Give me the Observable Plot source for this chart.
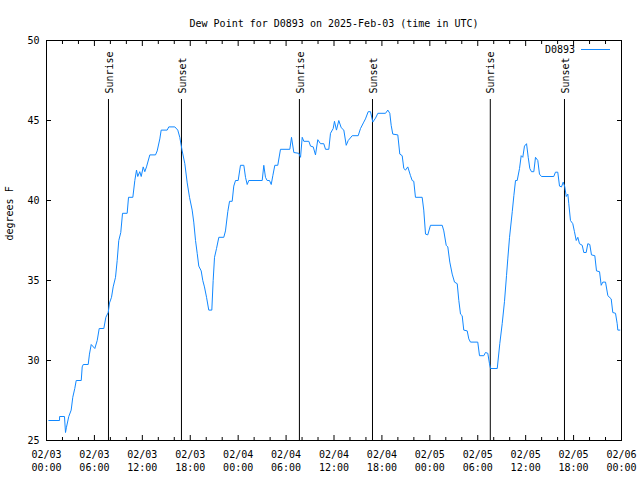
<!DOCTYPE html>
<html><head><meta charset="utf-8">
<script src="https://cdn.jsdelivr.net/npm/d3@7"></script>
<script src="https://cdn.jsdelivr.net/npm/@observablehq/plot@0.6"></script>
<style>body{margin:0;background:#fff}</style>
</head><body><div id="chart"></div>
<script>
const title = "Dew Point for D0893 on 2025-Feb-03 (time in UTC)";
const seriesName = "D0893";
const yLabel = "degrees F";
const startTime = "2025-02-03T00:00:00Z";

// hours since 2025-02-03 00:00 UTC
const hours = [0.29,1.63,1.64,2.25,2.38,2.5,2.79,3.09,3.29,3.54,3.72,4.35,4.47,4.6,5.22,5.38,5.6,6.05,6.35,6.6,7.18,7.43,7.73,7.89,8.14,8.35,8.64,8.85,9.05,9.3,9.52,10.1,10.27,10.81,11.06,11.27,11.43,11.68,11.86,12.11,12.31,12.52,12.94,13.65,13.86,14.19,14.36,15.11,15.31,16.07,16.44,16.69,16.99,17.32,17.62,17.91,18.24,18.44,18.66,18.87,19.07,19.37,19.57,19.78,20.04,20.32,20.7,20.87,21.04,21.29,21.58,22.2,22.41,22.7,22.92,23.25,23.45,23.67,24.0,24.29,24.71,24.92,25.13,25.33,27.01,27.21,27.42,27.63,27.92,28.14,28.34,28.59,28.96,29.3,30.47,30.68,30.97,31.59,31.81,32.02,32.22,32.85,33.06,33.4,33.68,33.97,34.31,34.72,34.94,35.35,35.56,35.9,36.06,36.31,36.6,36.9,37.23,37.53,37.78,38.28,39.03,39.32,39.73,39.94,40.28,40.57,40.86,41.2,41.49,42.45,42.74,42.99,43.16,43.36,43.99,44.24,44.54,44.74,44.95,45.24,45.58,45.79,45.99,46.2,47.04,47.24,47.46,47.74,48.08,49.55,49.75,50.05,50.25,50.5,50.8,51.09,51.43,51.63,51.84,52.05,52.25,52.68,52.88,53.09,54.0,54.22,54.76,54.97,55.26,55.47,55.6,56.44,56.76,57.06,57.35,57.6,57.77,57.98,58.32,58.52,58.73,58.94,59.23,59.44,59.64,59.85,60.11,60.32,60.52,60.73,61.02,61.23,61.52,61.73,61.98,63.52,63.73,64.02,64.24,64.49,64.7,64.9,65.08,65.28,65.4,65.61,65.9,66.11,66.33,66.53,66.74,67.08,67.28,67.58,67.78,68.03,68.24,68.66,68.87,69.25,69.46,69.66,70.0,70.29,70.71,70.91,71.25,71.46,71.54,71.79];
const dewPoint = [26.25,26.25,26.5,26.5,25.5,25.83,26.5,26.9,27.7,28.25,28.75,28.75,29.6,29.75,29.75,30.4,31.0,30.75,31.25,32.0,32.0,32.7,33.0,33.6,33.95,34.6,35.2,36.25,37.5,38.0,39.2,39.2,40.2,40.2,41.25,41.9,41.5,41.8,41.5,42.1,41.8,42.1,42.85,42.85,43.1,43.85,44.4,44.4,44.6,44.6,44.4,43.95,43.1,42.3,41.1,40.2,39.4,38.65,37.5,36.7,35.9,35.6,35.0,34.6,33.95,33.15,33.15,35.0,36.45,37.0,37.7,37.7,38.1,39.3,39.95,39.95,40.9,41.25,41.25,42.2,42.2,41.45,41.0,41.25,41.25,42.2,41.45,41.25,41.25,41.0,41.55,42.2,42.2,43.2,43.2,43.95,43.0,42.95,42.7,43.95,43.7,43.7,43.4,43.35,42.85,43.8,43.55,43.55,43.2,43.2,44.2,44.5,44.95,44.4,45.0,44.55,44.4,43.45,43.75,44.05,44.05,44.5,44.9,45.1,45.55,45.55,44.9,45.15,45.45,45.45,45.65,45.45,44.7,44.15,44.1,42.9,42.8,42.0,41.9,42.1,41.55,41.25,41.2,40.2,40.2,39.4,37.9,37.85,38.45,38.45,38.1,37.2,37.1,36.15,35.4,34.9,34.8,33.75,32.9,32.8,31.9,31.85,31.35,31.15,31.15,30.3,30.3,30.5,30.45,29.8,29.5,29.5,31.05,32.3,33.7,35.3,36.4,37.7,39.3,40.3,41.25,41.25,42.0,42.8,42.7,43.4,43.55,42.7,42.0,41.8,41.8,42.7,42.5,41.65,41.5,41.5,41.77,41.77,40.9,40.85,41.15,40.85,40.25,40.4,39.8,38.75,38.55,38.05,37.5,37.7,37.3,37.2,36.75,36.75,37.3,37.25,36.6,36.55,35.6,35.55,34.7,34.9,34.9,34.05,33.85,33.0,32.95,32.3,31.9,31.9];

const sunHours = [7.76, 16.9, 31.67, 40.82, 55.57, 64.86];
const sunLabels = ["Sunrise", "Sunset", "Sunrise", "Sunset", "Sunrise", "Sunset"];

const xMajorTickHours = [0, 6, 12, 18, 24, 30, 36, 42, 48, 54, 60, 66, 72];
const xMinorTickHours = [2, 4, 8, 10, 14, 16, 20, 22, 26, 28, 32, 34, 38, 40, 44, 46, 50, 52, 56, 58, 62, 64, 68, 70];
const yTicks = [25, 30, 35, 40, 45, 50];
const yDomain = [25, 50];

const lineColor = "#1188ff";
const t0 = new Date(startTime).getTime();
const toDate = h => new Date(t0 + h * 3600e3);
const data = hours.map((h, i) => ({time: toDate(h), value: dewPoint[i]}));
const sunEvents = sunHours.map((h, i) => ({time: toDate(h), label: sunLabels[i]}));
const majorTicks = xMajorTickHours.map(toDate);
const minorTicks = xMinorTickHours.map(toDate);
const fmt = d3.utcFormat("%m/%d\n%H:%M");

const legend = (index, scales, values, dims) => {
  const g = d3.create("svg:g");
  const right = dims.width - dims.marginRight;
  const y = dims.marginTop + 9.5;
  g.append("line").attr("x1", right - 40).attr("x2", right - 11).attr("y1", y).attr("y2", y)
    .attr("stroke", lineColor).attr("stroke-width", 1);
  g.append("text").attr("x", right - 46).attr("y", y).attr("dy", "0.32em")
    .attr("text-anchor", "end").attr("fill", "black").text(seriesName);
  return g.node();
};

const chart = Plot.plot({
  width: 640,
  height: 480,
  marginTop: 40,
  marginLeft: 46,
  marginRight: 19,
  marginBottom: 40,
  style: {fontFamily: "'DejaVu Sans Mono', monospace", fontSize: "10px", background: "white", color: "black"},
  x: {type: "utc", domain: [toDate(xMajorTickHours[0]), toDate(xMajorTickHours[xMajorTickHours.length - 1])]},
  y: {domain: yDomain},
  marks: [
    Plot.axisX({anchor: "bottom", ticks: majorTicks, tickSize: 0, tickPadding: 9, lineHeight: 1.25, tickFormat: fmt, label: null}),
    Plot.axisX({anchor: "bottom", ticks: majorTicks, tickSize: -5, tickFormat: () => "", label: null}),
    Plot.axisX({anchor: "top", ticks: majorTicks, tickSize: -5, tickFormat: () => "", label: null}),
    Plot.axisX({anchor: "bottom", ticks: minorTicks, tickSize: -3, tickFormat: () => "", label: null}),
    Plot.axisX({anchor: "top", ticks: minorTicks, tickSize: -3, tickFormat: () => "", label: null}),
    Plot.axisY({anchor: "left", ticks: yTicks, tickSize: 0, tickPadding: 7, label: null}),
    Plot.axisY({anchor: "left", ticks: yTicks, tickSize: -5, tickFormat: () => "", label: null}),
    Plot.axisY({anchor: "right", ticks: yTicks, tickSize: -5, tickFormat: () => "", label: null}),
    Plot.text([yLabel], {frameAnchor: "left", dx: -37, rotate: -90, text: d => d}),
    Plot.text([title], {frameAnchor: "top", dy: -21, text: d => d}),
    Plot.ruleX(sunEvents, {x: "time", stroke: "black", strokeWidth: 1, insetTop: 59}),
    Plot.text(sunEvents, {x: "time", text: "label", frameAnchor: "top", dy: 53, dx: -3, rotate: -90, textAnchor: "start", fill: "black"}),
    Plot.line(data, {x: "time", y: "value", stroke: lineColor, strokeWidth: 1}),
    Plot.frame({stroke: "black"}),
    legend
  ]
});
document.getElementById("chart").appendChild(chart);
</script>
</body></html>
